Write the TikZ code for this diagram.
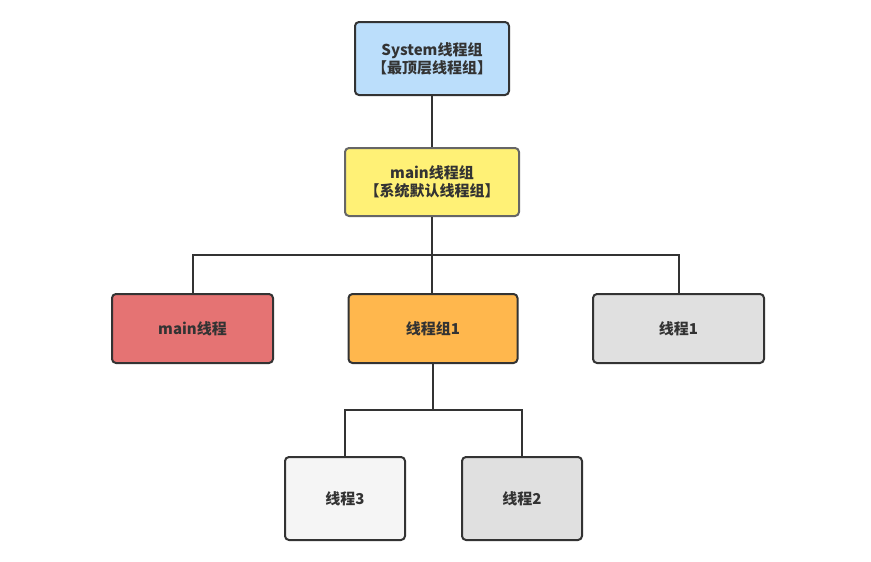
\documentclass[tikz,border=0pt]{standalone}
\usepackage{fontspec}
\setmainfont{Noto Sans CJK SC}
\usetikzlibrary{positioning}
\definecolor{ln}{HTML}{333333}
\definecolor{txt}{HTML}{333333}
\definecolor{cblue}{HTML}{BBDEFB}
\definecolor{cyellow}{HTML}{FFF176}
\definecolor{cred}{HTML}{E57373}
\definecolor{corange}{HTML}{FFB74D}
\definecolor{cgrey}{HTML}{E0E0E0}
\definecolor{clight}{HTML}{F5F5F5}
\begin{document}
\begin{tikzpicture}[x=1pt,y=-1pt,
  box/.style={draw=ln, line width=2pt, rounded corners=4pt, text=txt,
    font=\fontsize{15}{18}\selectfont\bfseries, align=center, inner sep=0pt},
  wire/.style={draw=ln, line width=2pt}]
\useasboundingbox (0,0) rectangle (871,562);
\node[box, fill=cblue, minimum width=154pt, minimum height=73pt] (sys) at (432,58.5) {System线程组\\【最顶层线程组】};
\node[box, fill=cyellow, draw=black!60, minimum width=174pt, minimum height=68pt] (mg) at (432,182) {main线程组\\【系统默认线程组】};
\node[box, fill=cred, minimum width=161pt, minimum height=69pt] (mt) at (192.5,328.5) {main线程};
\node[box, fill=corange, minimum width=169pt, minimum height=69pt] (g1) at (433,328.5) {线程组1};
\node[box, fill=cgrey, minimum width=171pt, minimum height=69pt] (t1) at (678.5,328.5) {线程1};
\node[box, fill=clight, minimum width=120pt, minimum height=83pt] (t3) at (345,498.5) {线程3};
\node[box, fill=cgrey, minimum width=120pt, minimum height=83pt] (t2) at (522,498.5) {线程2};
\coordinate (b1) at (432,255);
\coordinate (b2) at (433,410);
\draw[wire] (sys.south) -- (mg.north);
\draw[wire] (mg.south) -- (b1);
\draw[wire] (b1) -| (mt.north);
\draw[wire] (b1) -| (t1.north);
\draw[wire] (b1) -- (b1 |- g1.north);
\draw[wire] (g1.south) -- (b2);
\draw[wire] (b2) -| (t3.north);
\draw[wire] (b2) -| (t2.north);
\end{tikzpicture}
\end{document}
